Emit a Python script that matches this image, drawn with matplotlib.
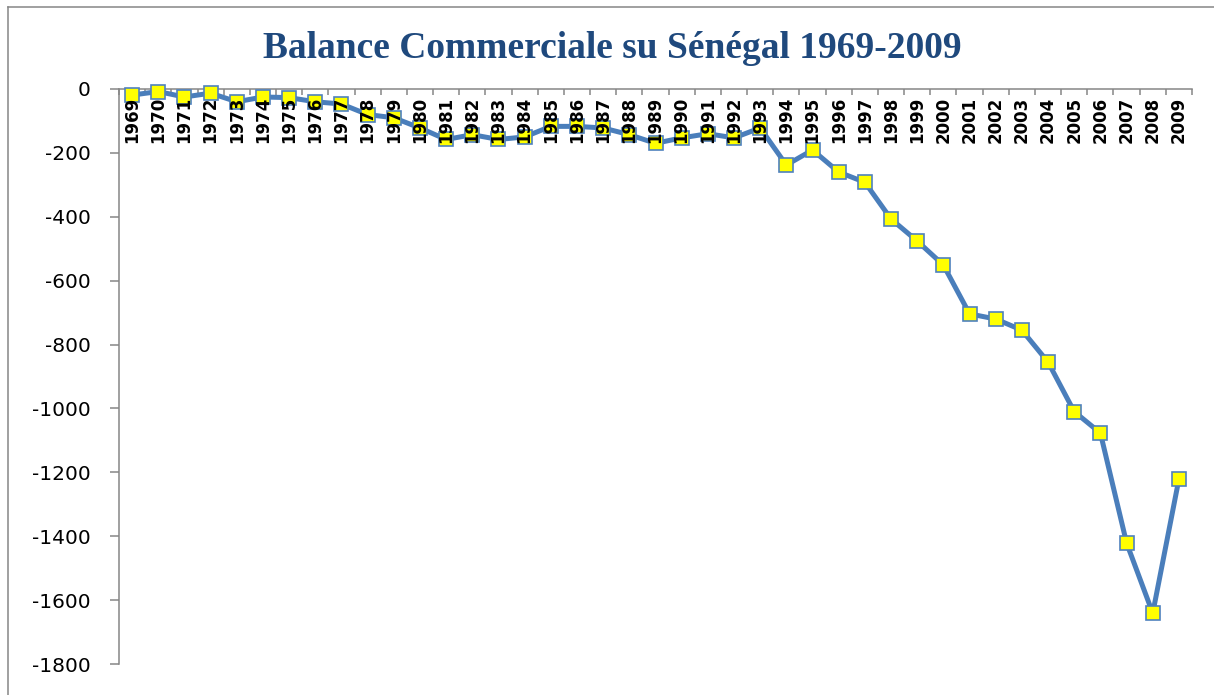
import matplotlib
matplotlib.use("Agg")
import matplotlib.pyplot as plt
import numpy as np
from matplotlib.lines import Line2D

years = [str(y) for y in range(1969, 2010)]
balance = [-19, -8, -25, -13, -40, -25, -27, -40, -47, -80, -90, -122, -158,
           -143, -158, -150, -117, -117, -122, -143, -170, -153, -140, -153, -122,
           -238, -191, -260, -292, -407, -476, -551, -704, -720, -755, -855,
           -1010, -1077, -1421, -1641, -1221]
yticks = list(range(-1800, 1, 200))
title = "Balance Commerciale su Sénégal 1969-2009"

W, H = 1214, 695
fig = plt.figure(figsize=(W / 100, H / 100), dpi=100)
fig.patch.set_facecolor("white")

left, right, top, bottom = 119, 1192, 89, 664
ax = fig.add_axes([left / W, 1 - bottom / H, (right - left) / W, (bottom - top) / H])

x = np.arange(len(years))
ax.plot(x, balance, color="#4A7EBB", lw=3.6, marker="s", ms=10,
        mfc="#FFFF00", mec="#4F81BD", mew=1.2, zorder=3, clip_on=False)

ax.set_xlim(-0.5, len(years) - 0.5)
ax.set_ylim(-1800, 0)
ax.set_yticks(yticks)
ax.set_yticklabels([str(v) for v in yticks], fontsize=14.5, family="DejaVu Sans")
ax.tick_params(axis="y", direction="out", length=6.5, width=1.1, color="#868686", pad=14)

ax.xaxis.tick_top()
ax.set_xticks(np.arange(-0.5, len(years), 1.0))
ax.set_xticklabels([])
ax.tick_params(axis="x", direction="in", length=4, width=1.1, color="#868686")

for s in ["bottom", "right"]:
    ax.spines[s].set_visible(False)
for s in ["left", "top"]:
    ax.spines[s].set_color("#868686")
    ax.spines[s].set_linewidth(1.1)

tr = ax.get_xaxis_transform()
for i, lab in enumerate(years):
    ax.text(i, 1 - 8 / (bottom - top), lab, transform=tr, rotation=90,
            ha="center", va="top", fontsize=12, fontweight="bold",
            family="DejaVu Sans", zorder=5, clip_on=False)

fig.text(0.504, 1 - 48 / H, title, ha="center", va="center", fontsize=27,
         fontweight="bold", family="Liberation Serif", color="#1F497D")

fig.add_artist(Line2D([8 / W, 8 / W], [0, 1 - 7 / H], color="#868686", lw=1.1,
                      transform=fig.transFigure))
fig.add_artist(Line2D([8 / W, 1], [1 - 7 / H, 1 - 7 / H], color="#868686", lw=1.1,
                      transform=fig.transFigure))

fig.savefig("out.png", dpi=100)
